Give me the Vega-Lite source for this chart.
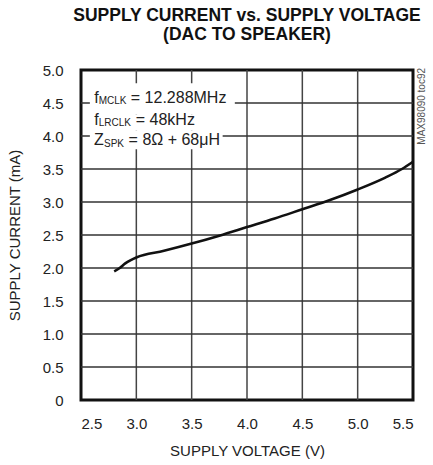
{
  "$schema": "https://vega.github.io/schema/vega-lite/v6.json",
  "autosize": "none",
  "width": 332,
  "height": 330,
  "padding": {"left": 81, "top": 70, "right": 20, "bottom": 65},
  "background": "white",
  "title": {
    "text": ["SUPPLY CURRENT vs. SUPPLY VOLTAGE", "(DAC TO SPEAKER)"],
    "font": "Liberation Sans",
    "fontWeight": "bold",
    "fontSize": 17.5,
    "lineHeight": 19,
    "anchor": "middle",
    "color": "#111",
    "offset": 20
  },
  "config": {
    "view": {"stroke": "#111", "strokeWidth": 3},
    "font": "Liberation Sans",
    "axis": {
      "labelFont": "Liberation Sans",
      "titleFont": "Liberation Sans",
      "labelFontSize": 15,
      "titleFontSize": 15,
      "titleFontWeight": "normal",
      "labelColor": "#222",
      "titleColor": "#222",
      "domain": false,
      "tickSize": 0,
      "tickOpacity": 0,
      "grid": false
    }
  },
  "datasets": {
    "curve": [
      {"v": 2.8, "i": 1.95},
      {"v": 2.85, "i": 2.0},
      {"v": 2.9, "i": 2.07},
      {"v": 2.95, "i": 2.12},
      {"v": 3.0, "i": 2.16},
      {"v": 3.25, "i": 2.26},
      {"v": 3.5, "i": 2.37},
      {"v": 3.75, "i": 2.49},
      {"v": 4.0, "i": 2.62},
      {"v": 4.25, "i": 2.75},
      {"v": 4.5, "i": 2.89},
      {"v": 4.75, "i": 3.03},
      {"v": 5.0, "i": 3.19},
      {"v": 5.25, "i": 3.37},
      {"v": 5.4, "i": 3.5},
      {"v": 5.5, "i": 3.61}
    ],
    "xgrid": [{"gv": 3.0}, {"gv": 3.5}, {"gv": 4.0}, {"gv": 4.5}, {"gv": 5.0}],
    "ygrid": [{"gi": 0.5}, {"gi": 1.0}, {"gi": 1.5}, {"gi": 2.0}, {"gi": 2.5}, {"gi": 3.0}, {"gi": 3.5}, {"gi": 4.0}, {"gi": 4.5}],
    "boxes": [
      {"bx": 2.58, "bx2": 3.89, "by": 4.8, "by2": 4.33},
      {"bx": 2.58, "bx2": 3.6, "by": 4.33, "by2": 4.08},
      {"bx": 2.58, "bx2": 3.78, "by": 4.08, "by2": 3.8}
    ],
    "labels": [
      {"x": 2.62, "y": 4.5, "t": "f", "kind": "main"},
      {"x": 2.66, "y": 4.48, "t": "MCLK", "kind": "sub"},
      {"x": 2.95, "y": 4.5, "t": "= 12.288MHz", "kind": "main"},
      {"x": 2.62, "y": 4.17, "t": "f", "kind": "main"},
      {"x": 2.66, "y": 4.15, "t": "LRCLK", "kind": "sub"},
      {"x": 2.995, "y": 4.17, "t": "= 48kHz", "kind": "main"},
      {"x": 2.617, "y": 3.86, "t": "Z", "kind": "main"},
      {"x": 2.708, "y": 3.84, "t": "SPK", "kind": "sub"},
      {"x": 2.93, "y": 3.86, "t": "= 8Ω + 68μH", "kind": "main"}
    ],
    "watermark": [
      {"x": 5.58, "y": 4.45, "t": "MAX98090 toc92"}
    ]
  },
  "encoding": {
    "x": {
      "type": "quantitative",
      "scale": {"domain": [2.5, 5.5], "nice": false, "zero": false},
      "axis": {
        "title": "SUPPLY VOLTAGE (V)",
        "values": [2.5, 3.0, 3.5, 4.0, 4.5, 5.0, 5.5],
        "format": ".1f",
        "labelPadding": 16,
        "titlePadding": 12
      }
    },
    "y": {
      "type": "quantitative",
      "scale": {"domain": [0, 5], "nice": false},
      "axis": {
        "title": "SUPPLY CURRENT (mA)",
        "values": [0, 0.5, 1.0, 1.5, 2.0, 2.5, 3.0, 3.5, 4.0, 4.5, 5.0],
        "labelExpr": "datum.value === 0 ? '0' : format(datum.value, '.1f')",
        "labelPadding": 18,
        "titlePadding": 20
      }
    }
  },
  "layer": [
    {
      "data": {"name": "xgrid"},
      "mark": {"type": "rule", "color": "#444", "strokeWidth": 1.5},
      "encoding": {
        "x": {"field": "gv"},
        "y": {"datum": 0},
        "y2": {"datum": 5}
      }
    },
    {
      "data": {"name": "ygrid"},
      "mark": {"type": "rule", "color": "#333", "strokeWidth": 1.5},
      "encoding": {
        "y": {"field": "gi"},
        "x": {"datum": 2.5},
        "x2": {"datum": 5.5}
      }
    },
    {
      "data": {"name": "boxes"},
      "mark": {"type": "rect", "fill": "white", "stroke": null},
      "encoding": {
        "x": {"field": "bx"},
        "x2": {"field": "bx2"},
        "y": {"field": "by"},
        "y2": {"field": "by2"}
      }
    },
    {
      "data": {"name": "curve"},
      "mark": {"type": "line", "color": "#111", "strokeWidth": 2.6, "interpolate": "monotone"},
      "encoding": {
        "x": {"field": "v"},
        "y": {"field": "i"}
      }
    },
    {
      "data": {"name": "labels"},
      "transform": [{"filter": "datum.kind === 'main'"}],
      "mark": {"type": "text", "align": "left", "baseline": "alphabetic", "fontSize": 16, "color": "#222"},
      "encoding": {
        "x": {"field": "x"},
        "y": {"field": "y"},
        "text": {"field": "t"}
      }
    },
    {
      "data": {"name": "labels"},
      "transform": [{"filter": "datum.kind === 'sub'"}],
      "mark": {"type": "text", "align": "left", "baseline": "alphabetic", "fontSize": 10, "color": "#222"},
      "encoding": {
        "x": {"field": "x"},
        "y": {"field": "y"},
        "text": {"field": "t"}
      }
    },
    {
      "data": {"name": "watermark"},
      "mark": {"type": "text", "align": "center", "baseline": "middle", "angle": 270, "fontSize": 10, "color": "#555"},
      "encoding": {
        "x": {"field": "x"},
        "y": {"field": "y"},
        "text": {"field": "t"}
      }
    }
  ]
}
